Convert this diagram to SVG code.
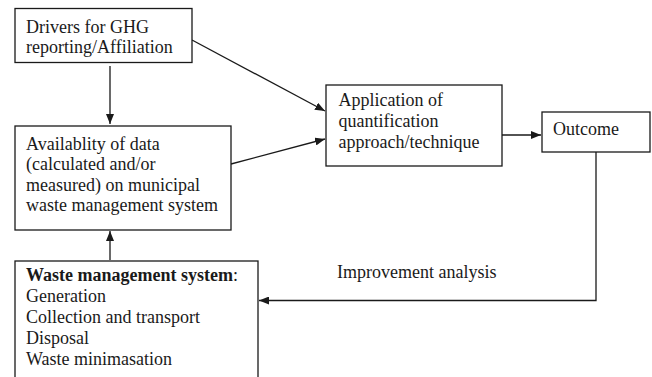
<svg xmlns="http://www.w3.org/2000/svg" width="652" height="377" viewBox="0 0 652 377">
<style>
.box{fill:#fff;stroke:#1a1a1a;stroke-width:1.3}
.t{font-family:"Liberation Serif","Times New Roman",serif;font-size:18px;fill:#1a1a1a}
.b{font-weight:bold}
.c{fill:none;stroke:#1a1a1a;stroke-width:1.3}
</style>
<defs>
<marker id="ah" viewBox="0 0 10 8" refX="10" refY="4" markerWidth="10" markerHeight="8" markerUnits="userSpaceOnUse" orient="auto">
<path d="M0,0 L10,4 L0,8 Z" fill="#1a1a1a"/>
</marker>
</defs>
<rect width="652" height="377" fill="#fff"/>
<g id="connectors">
<line class="c" x1="110" y1="66" x2="110" y2="124" marker-end="url(#ah)"/>
<line class="c" x1="192" y1="40" x2="325" y2="111" marker-end="url(#ah)"/>
<line class="c" x1="231" y1="164" x2="325" y2="139" marker-end="url(#ah)"/>
<line class="c" x1="110" y1="260" x2="110" y2="231" marker-end="url(#ah)"/>
<line class="c" x1="502" y1="135" x2="541" y2="135" marker-end="url(#ah)"/>
<polyline class="c" points="596,152 596,300.5 259,300.5" marker-end="url(#ah)"/>
<text class="t" x="337" y="278">Improvement analysis</text>
</g>
<g id="drivers">
<rect class="box" x="15" y="8.5" width="177" height="54"/>
<text class="t" x="26" y="32.5">Drivers for GHG</text>
<text class="t" x="26" y="52.5">reporting/Affiliation</text>
</g>
<g id="availability">
<rect class="box" x="15" y="126" width="216" height="104"/>
<text class="t" x="26" y="149.5">Availablity of data</text>
<text class="t" x="26" y="170">(calculated and/or</text>
<text class="t" x="26" y="190.7">measured) on municipal</text>
<text class="t" x="26" y="211">waste management system</text>
</g>
<g id="application">
<rect class="box" x="326" y="85" width="176" height="81"/>
<text class="t" x="338.5" y="106">Application of</text>
<text class="t" x="338.5" y="127">quantification</text>
<text class="t" x="338.5" y="148">approach/technique</text>
</g>
<g id="outcome">
<rect class="box" x="542" y="112" width="108" height="40"/>
<text class="t" x="553" y="134.5">Outcome</text>
</g>
<g id="waste">
<rect class="box" x="15" y="261" width="243" height="130"/>
<text class="t" x="26" y="281"><tspan class="b">Waste management system</tspan>:</text>
<text class="t" x="26" y="302">Generation</text>
<text class="t" x="26" y="323">Collection and transport</text>
<text class="t" x="26" y="344">Disposal</text>
<text class="t" x="26" y="365">Waste minimasation</text>
</g>
</svg>
